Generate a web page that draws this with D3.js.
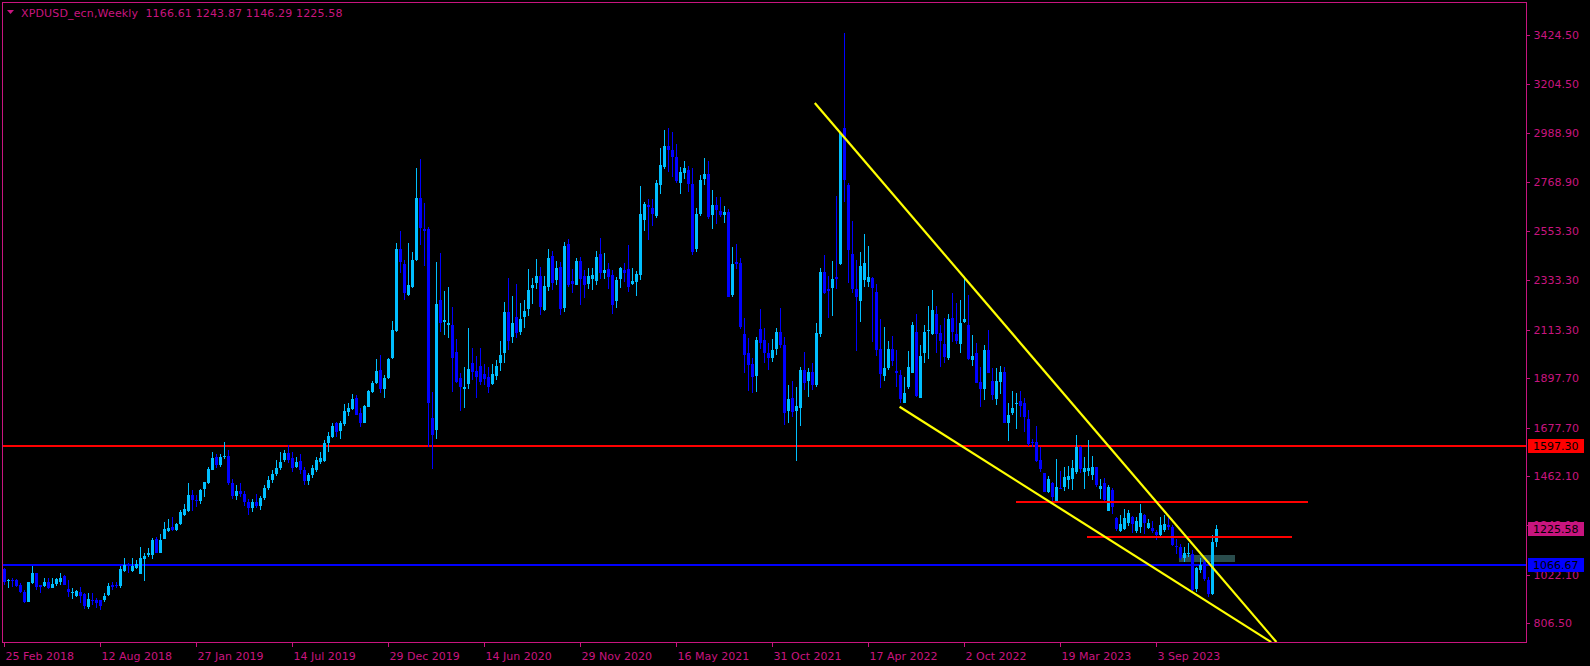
<!DOCTYPE html>
<html><head><meta charset="utf-8">
<script src="https://cdn.jsdelivr.net/npm/d3@7"></script>
<style>html,body{margin:0;padding:0;background:#000;overflow:hidden}</style>
</head><body><svg id="c" width="1590" height="666"></svg>
<script>
// Weekly XPDUSD candles, 25 Feb 2018 .. Dec 2023
const opens = [1047,996,1000,999,977,947,903,984,1029,977,972,990,965,981,990,1017,959,946,929,946,937,878,908,910,910,910,932,978,977,972,
1039,1069,1041,1052,1026,1094,1112,1112,1183,1121,1183,1219,1236,1222,1248,1287,1305,1377,1355,1349,1403,1429,1490,1548,1511,1547,1551,1430,1375,1395,
1380,1345,1320,1345,1330,1365,1410,1445,1470,1499,1533,1563,1541,1500,1530,1489,1440,1465,1489,1526,1530,1607,1634,1696,1664,1693,1748,1762,1808,1741,
1699,1771,1836,1874,1934,1851,1900,1989,2107,2472,2405,2267,2304,2423,2699,2561,2561,1722,1667,2245,2149,2135,2132,2012,1897,1848,1873,1963,1931,1952,
1916,1901,1871,1908,1965,2011,2192,2082,2168,2104,2168,2207,2300,2319,2352,2201,2302,2441,2334,2394,2211,2494,2330,2312,2419,2352,2316,2337,2331,2450,
2367,2382,2355,2242,2340,2379,2382,2315,2327,2357,2601,2668,2656,2619,2757,2839,2931,2913,2880,2767,2812,2824,2763,2474,2628,2785,2806,2623,2668,2640,
2623,2638,2267,2416,2408,2094,2008,1960,1907,2115,2067,2008,1986,2027,2101,2045,1753,1808,1753,1763,1934,1886,1926,1867,2092,2368,2294,2297,2346,2405,
3012,2757,2450,2293,2242,2334,2327,2342,2279,2026,1907,1941,2026,1929,1911,1788,1860,1922,2101,1811,2008,2109,2094,2183,2097,2050,1986,2164,2094,2050,
2149,2134,1978,2008,1882,1848,2023,1886,1803,1882,1926,1699,1741,1782,1796,1785,1714,1615,1615,1533,1474,1392,1429,1352,1410,1412,1444,1449,1481,1593,
1481,1484,1465,1501,1403,1429,1308,1400,1274,1219,1225,1254,1281,1219,1237,1288,1229,1229,1214,1200,1222,1244,1237,1150,1145,1096,1117,1115,958,1044,
1081,999,937,1166.61];
const highs = [1051,1005,1007,1002,984,955,992,1061,1032,977,1006,1006,1006,1006,1029,1021,999,962,955,967,940,940,940,921,910,940,984,989,992,1063,
1098,1076,1096,1088,1147,1118,1143,1187,1189,1204,1259,1272,1278,1251,1311,1337,1432,1400,1377,1404,1435,1502,1570,1560,1560,1613,1578,1450,1420,1430,
1395,1360,1360,1380,1375,1420,1460,1490,1533,1570,1578,1600,1570,1545,1560,1500,1475,1510,1545,1569,1622,1659,1699,1704,1708,1782,1785,1827,1823,1763,
1778,1845,1885,1983,2000,1911,1989,2152,2499,2552,2423,2497,2459,2833,2873,2675,2569,1834,2414,2453,2285,2302,2216,2070,1922,1949,2121,2030,1996,2030,
1960,1946,1960,1980,2063,2236,2343,2263,2316,2230,2245,2383,2343,2426,2391,2352,2472,2463,2419,2416,2505,2515,2382,2431,2435,2379,2386,2386,2463,2523,
2456,2408,2379,2349,2394,2411,2489,2386,2376,2753,2683,2693,2695,2779,2923,3002,3009,2991,2939,2836,2864,2841,2831,2653,2801,2876,2864,2735,2702,2702,
2663,2649,2483,2493,2431,2164,2075,1986,2082,2204,2119,2052,2070,2119,2208,2082,1867,1886,1860,1949,2012,1941,1963,2141,2386,2445,2352,2419,2708,2990,
3432,2764,2597,2423,2457,2539,2486,2349,2316,2159,2127,2063,2085,2023,1934,1904,2018,2149,2183,2045,2134,2220,2290,2219,2134,2164,2183,2275,2230,2245,
2342,2268,2089,2052,1949,2045,2112,1941,1941,1950,1945,1785,1840,1830,1840,1808,1756,1625,1685,1590,1477,1462,1434,1536,1484,1504,1507,1533,1644,1596,
1548,1622,1551,1504,1447,1452,1422,1407,1281,1289,1314,1311,1284,1281,1337,1293,1269,1263,1222,1281,1289,1281,1244,1180,1160,1147,1162,1133,1058,1096,
1093,1014,1199,1243.87];
const lows = [975,962,970,970,940,895,903,981,955,940,969,958,962,974,976,977,925,915,925,898,870,870,888,873,866,900,929,955,962,964,
1035,1032,1036,1048,1026,995,1103,1093,1118,1118,1180,1211,1219,1217,1244,1284,1302,1308,1322,1337,1370,1426,1489,1496,1504,1536,1420,1360,1355,1370,
1330,1290,1300,1320,1310,1355,1400,1430,1462,1490,1526,1518,1480,1496,1470,1420,1420,1455,1480,1517,1526,1570,1630,1634,1628,1685,1729,1756,1733,1679,
1696,1768,1830,1871,1830,1810,1895,1984,2104,2367,2247,2263,2299,2420,2490,2397,1593,1491,1628,2104,2089,2076,1837,1877,1753,1766,1851,1889,1811,1867,
1867,1830,1866,1889,1931,1966,2023,2055,2075,2090,2122,2176,2229,2293,2178,2198,2287,2290,2312,2178,2193,2305,2275,2310,2223,2256,2293,2290,2312,2339,
2340,2293,2183,2211,2300,2325,2282,2312,2265,2334,2554,2512,2575,2612,2717,2830,2816,2794,2767,2717,2782,2727,2445,2460,2619,2757,2606,2561,2583,2616,
2589,2257,2260,2382,2115,1919,1842,1833,1837,2026,1966,1934,1971,1999,2030,1689,1699,1726,1530,1686,1845,1812,1845,1860,2082,2272,2167,2174,2293,2400,
2683,2319,2275,2018,2147,2305,2305,2060,1996,1855,1886,1934,1952,1860,1786,1785,1848,1919,1815,1808,1966,1981,2089,2008,1949,1966,1978,2060,2050,2008,
2144,1978,1952,1874,1768,1800,1919,1800,1778,1827,1696,1619,1733,1671,1723,1659,1596,1590,1526,1481,1389,1388,1352,1350,1403,1397,1404,1400,1471,1477,
1403,1462,1444,1415,1358,1352,1305,1293,1219,1214,1222,1239,1210,1207,1207,1204,1225,1210,1177,1192,1214,1222,1150,1115,1088,1081,1100,952,947,1029,
996,922,932,1146.29];
const closes = [992,1000,996,974,947,903,989,1029,969,969,990,965,983,1002,1008,978,947,948,952,929,885,913,906,895,885,928,972,969,975,1048,
1066,1061,1061,1069,1097,1106,1121,1177,1121,1177,1226,1232,1222,1248,1302,1314,1377,1355,1352,1400,1435,1493,1541,1511,1548,1550,1430,1375,1395,1380,
1345,1320,1345,1330,1365,1410,1445,1470,1497,1526,1563,1533,1496,1523,1489,1440,1465,1496,1533,1540,1607,1640,1684,1659,1699,1751,1766,1806,1734,1699,
1774,1842,1874,1929,1848,1898,1983,2112,2472,2416,2275,2312,2423,2699,2567,2554,1788,1644,2227,2144,2156,2144,1989,1880,1860,1857,1937,1926,1904,1882,
1892,1857,1916,1952,2001,2192,2064,2141,2097,2161,2196,2290,2310,2352,2213,2308,2431,2322,2386,2205,2485,2311,2316,2419,2337,2311,2352,2355,2435,2367,
2379,2349,2221,2334,2386,2367,2305,2331,2361,2628,2671,2658,2628,2764,2846,2931,2913,2880,2775,2815,2831,2763,2460,2628,2779,2806,2616,2668,2646,2622,
2638,2260,2405,2405,2124,2000,1956,1904,2067,2052,2008,1989,2023,2101,2045,1741,1805,1748,1774,1934,1877,1925,1867,2097,2368,2278,2287,2339,2339,2987,
2779,2468,2293,2257,2397,2408,2346,2300,2023,1916,1941,2026,1975,1922,1803,1833,1949,2134,1820,1996,2101,2112,2201,2094,2064,1990,2159,2104,2064,2141,
2161,1981,1996,1877,1848,2023,1922,1822,1886,1926,1699,1733,1763,1788,1775,1723,1604,1610,1530,1492,1392,1447,1367,1412,1403,1456,1462,1496,1590,1492,
1499,1499,1501,1422,1418,1355,1415,1323,1225,1248,1274,1296,1248,1262,1296,1251,1251,1217,1200,1244,1248,1237,1155,1145,1096,1121,1120,955,1051,1066,
1002,937,1170,1225.58];

const yTicks = [3424.50,3204.50,2988.90,2768.90,2553.30,2333.30,2113.30,1897.70,1677.70,1462.10,1242.10,1022.10,806.50];
const xTickBars = [0,24,48,72,96,120,144,168,192,216,240,264,288];
const xTickLabels = ["25 Feb 2018","12 Aug 2018","27 Jan 2019","14 Jul 2019","29 Dec 2019","14 Jun 2020","29 Nov 2020","16 May 2021","31 Oct 2021","17 Apr 2022","2 Oct 2022","19 Mar 2023","3 Sep 2023"];
const hLevels = [{price:1597.30, color:"#FF0000"},{price:1066.67, color:"#0000FF"}];
const bidPrice = 1225.58;
// trend lines: [barIndex, price] pairs
const yellowLines = [[[202.7,3122],[318.1,723]],[[223.9,1770],[316.8,723]]];
const redSegments = [[[252.9,1347],[326.1,1347]],[[270.8,1189],[322.0,1189]]];
const greyZone = {x0:293.8, x1:307.8, p0:1110, p1:1081};
const title = "XPDUSD_ecn,Weekly  1166.61 1243.87 1146.29 1225.58";

const AXIS = "#C8157F";
const BULL = "#00BFFF", BEAR = "#0000FF";
const svg = d3.select("#c");
const L = 2, R = 1526, T = 2, B = 642;
const x = d3.scaleLinear().domain([0, 303]).range([4, 1216]);
const y = d3.scaleLinear().domain([806.5, 3424.5]).range([623.3, 35]);

svg.append("rect").attr("width",1590).attr("height",666).attr("fill","#000");
svg.append("defs").append("clipPath").attr("id","plot").append("rect")
  .attr("x",L+1).attr("y",T+1).attr("width",R-L-1).attr("height",B-T-1);

const g = svg.append("g").attr("clip-path","url(#plot)").attr("shape-rendering","crispEdges");

// horizontal levels (behind candles)
hLevels.forEach(h => {
  g.append("line").attr("x1",L).attr("x2",R).attr("y1",y(h.price)).attr("y2",y(h.price))
   .attr("stroke",h.color).attr("stroke-width",2);
});

// grey zone (behind candles)
g.append("rect").attr("x",x(greyZone.x0)).attr("width",x(greyZone.x1)-x(greyZone.x0))
  .attr("y",y(greyZone.p0)).attr("height",y(greyZone.p1)-y(greyZone.p0)).attr("fill","#2F5555").attr("opacity",0.9);

// candles
const data = opens.map((o,i)=>({i,o,h:highs[i],l:lows[i],c:closes[i]}));
const cg = g.append("g");
data.forEach(d=>{
  const cx = Math.round(x(d.i)) + 0.5;
  const col = d.c >= d.o ? BULL : BEAR;
  cg.append("line").attr("x1",cx).attr("x2",cx).attr("y1",y(d.h)).attr("y2",y(d.l))
    .attr("stroke",col).attr("stroke-width",1);
  const top = Math.min(y(d.o),y(d.c)), bot = Math.max(y(d.o),y(d.c));
  cg.append("rect").attr("x",cx-1.5).attr("y",top).attr("width",3).attr("height",Math.max(1,bot-top))
    .attr("fill",col);
});

// red short segments
redSegments.forEach(s=>{
  g.append("line").attr("x1",x(s[0][0])).attr("x2",x(s[1][0]))
   .attr("y1",y(s[0][1])).attr("y2",y(s[1][1])).attr("stroke","#FF0000").attr("stroke-width",2);
});
// yellow lines
const ly = g.append("g").attr("shape-rendering","auto");
yellowLines.forEach(s=>{
  ly.append("line").attr("x1",x(s[0][0])).attr("x2",x(s[1][0]))
   .attr("y1",y(s[0][1])).attr("y2",y(s[1][1])).attr("stroke","#FFFF00").attr("stroke-width",2.2);
});

// frame
svg.append("rect").attr("x",L+0.5).attr("y",T+0.5).attr("width",R-L).attr("height",B-T)
  .attr("fill","none").attr("stroke",AXIS).attr("stroke-width",1).attr("shape-rendering","crispEdges");

// y axis
const yAxis = d3.axisRight(y).tickValues(yTicks).tickFormat(d3.format(".2f")).tickSize(3).tickPadding(4);
const ya = svg.append("g").attr("transform",`translate(${R+0.5},0)`).call(yAxis);
ya.select(".domain").remove();
ya.selectAll("line").attr("stroke",AXIS).attr("shape-rendering","crispEdges");
ya.selectAll("text").attr("fill",AXIS).attr("font-family","DejaVu Sans").attr("font-size",11);

// x axis
const xAxis = d3.axisBottom(x).tickValues(xTickBars).tickFormat((d,i)=>xTickLabels[i]).tickSize(4).tickPadding(3);
const xa = svg.append("g").attr("transform",`translate(0,${B+0.5})`).call(xAxis);
xa.select(".domain").remove();
xa.selectAll("line").attr("stroke",AXIS).attr("shape-rendering","crispEdges");
xa.selectAll("text").attr("fill",AXIS).attr("font-family","DejaVu Sans").attr("font-size",11)
  .attr("text-anchor","start").attr("x",1).attr("dy","0.95em");

// price labels on the axis
function priceBox(p, fill){
  const yy = y(p);
  svg.append("rect").attr("x",R+2).attr("y",Math.round(yy)-7).attr("width",56).attr("height",14).attr("fill",fill);
  svg.append("text").attr("x",R+7).attr("y",yy).attr("dy","0.36em").text(d3.format(".2f")(p))
    .attr("fill","#000").attr("font-family","DejaVu Sans").attr("font-size",11);
}
hLevels.forEach(h=>priceBox(h.price,h.color));
priceBox(bidPrice, AXIS);

// title
svg.append("path").attr("d","M7,10 L14,10 L10.5,14 Z").attr("fill",AXIS);
svg.append("text").attr("x",21).attr("y",17).text(title).attr("fill",AXIS)
  .attr("font-family","DejaVu Sans").attr("font-size",11).attr("letter-spacing",0.15)
  .attr("xml:space","preserve").style("white-space","pre");
</script></body></html>
